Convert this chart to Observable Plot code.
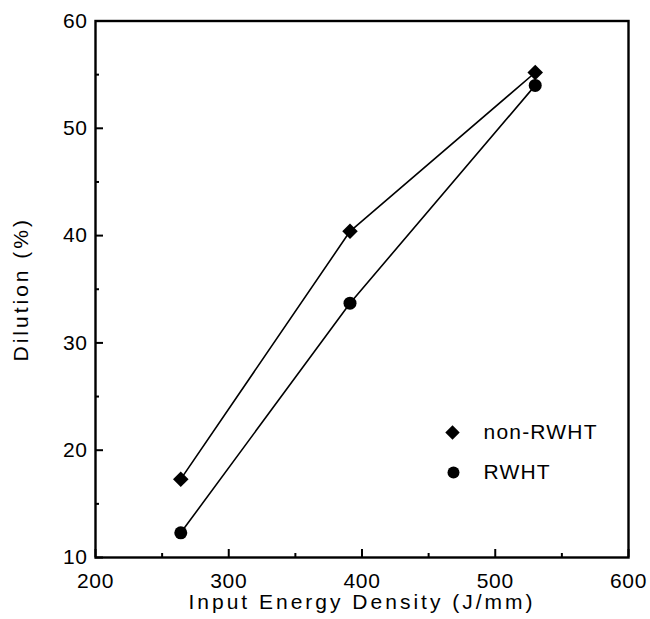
<!DOCTYPE html>
<html>
<head>
<meta charset="utf-8">
<script src="https://cdn.jsdelivr.net/npm/d3@7"></script>
<script src="https://cdn.jsdelivr.net/npm/@observablehq/plot@0.6"></script>
<style>
  html, body { margin: 0; padding: 0; background: white; }
  #chart svg { display: block; }
</style>
</head>
<body>
<div id="chart"></div>
<script>
// Data
const energy = [264, 391, 530];            // Input Energy Density (J/mm)
const nonRWHT = [17.3, 40.4, 55.2];        // Dilution (%), non-RWHT
const rwht = [12.3, 33.7, 54.0];           // Dilution (%), RWHT
const seriesNames = ["non-RWHT", "RWHT"];
const xMajor = [200, 300, 400, 500, 600];
const xMinor = [250, 350, 450, 550];
const yMajor = [10, 20, 30, 40, 50, 60];
const yMinor = [15, 25, 35, 45, 55];
const xTitle = "Input Energy Density (J/mm)";
const yTitle = "Dilution (%)";

const rowsA = energy.map((x, i) => ({x, y: nonRWHT[i], s: seriesNames[0]}));
const rowsB = energy.map((x, i) => ({x, y: rwht[i], s: seriesNames[1]}));

const font = "'Liberation Sans', Arial, Helvetica, sans-serif";

const chart = Plot.plot({
  width: 650,
  height: 619,
  marginLeft: 95,
  marginRight: 22,
  marginTop: 20.5,
  marginBottom: 62,
  style: {fontFamily: font, fontSize: "21px", background: "white", color: "black"},
  x: {domain: [200, 600]},
  y: {domain: [10, 60]},
  marks: [
    // tick labels
    Plot.axisX({ticks: xMajor, tickSize: 0, tickPadding: 16, tickFormat: d => d, label: null, fontSize: 21, ariaLabel: "xticklabels"}),
    Plot.axisY({ticks: yMajor, tickSize: 0, tickPadding: 8, tickFormat: d => d, label: null, fontSize: 21, ariaLabel: "yticklabels"}),
    // inward ticks
    Plot.axisX({ticks: xMajor, tickSize: -8, text: null, label: null, strokeWidth: 2}),
    Plot.axisX({ticks: xMinor, tickSize: -4, text: null, label: null, strokeWidth: 2}),
    Plot.axisY({ticks: yMajor, tickSize: -8, text: null, label: null, strokeWidth: 2}),
    Plot.axisY({ticks: yMinor, tickSize: -4, text: null, label: null, strokeWidth: 2}),
    Plot.frame({stroke: "black", strokeWidth: 2.4}),
    // axis titles
    Plot.text([yTitle], {frameAnchor: "left", dx: -74, rotate: -90, text: d => d, textAnchor: "middle", lineAnchor: "middle", fontSize: 21}),
    Plot.text([xTitle], {frameAnchor: "bottom", dy: 45, text: d => d, textAnchor: "middle", lineAnchor: "middle", fontSize: 21}),
    // series
    Plot.line(rowsA, {x: "x", y: "y", stroke: "black", strokeWidth: 1.6}),
    Plot.line(rowsB, {x: "x", y: "y", stroke: "black", strokeWidth: 1.6}),
    Plot.dot(rowsA, {x: "x", y: "y", symbol: "diamond2", fill: "black", stroke: "none", r: 7}),
    Plot.dot(rowsB, {x: "x", y: "y", symbol: "circle", fill: "black", stroke: "none", r: 6.5}),
    // legend
    Plot.dot([seriesNames[0]], {frameAnchor: "bottom-right", dx: -176, dy: -125, symbol: "diamond2", fill: "black", stroke: "none", r: 6.5}),
    Plot.dot([seriesNames[1]], {frameAnchor: "bottom-right", dx: -175, dy: -85, symbol: "circle", fill: "black", stroke: "none", r: 6}),
    Plot.text([seriesNames[0]], {frameAnchor: "bottom-right", dx: -145, dy: -125, text: d => d, textAnchor: "start", lineAnchor: "middle", fontSize: 21}),
    Plot.text([seriesNames[1]], {frameAnchor: "bottom-right", dx: -145, dy: -85, text: d => d, textAnchor: "start", lineAnchor: "middle", fontSize: 21})
  ]
});
document.getElementById("chart").appendChild(chart);

// widen letter spacing to match the reference typeface
d3.select(chart).selectAll("text").each(function () {
  const t = this.textContent;
  let ls = 0.6;
  if (t === xTitle || t === yTitle) ls = 3;
  else if (seriesNames.includes(t)) ls = 1.2;
  this.setAttribute("letter-spacing", ls + "px");
  this.style.letterSpacing = ls + "px";
});
</script>
</body>
</html>
